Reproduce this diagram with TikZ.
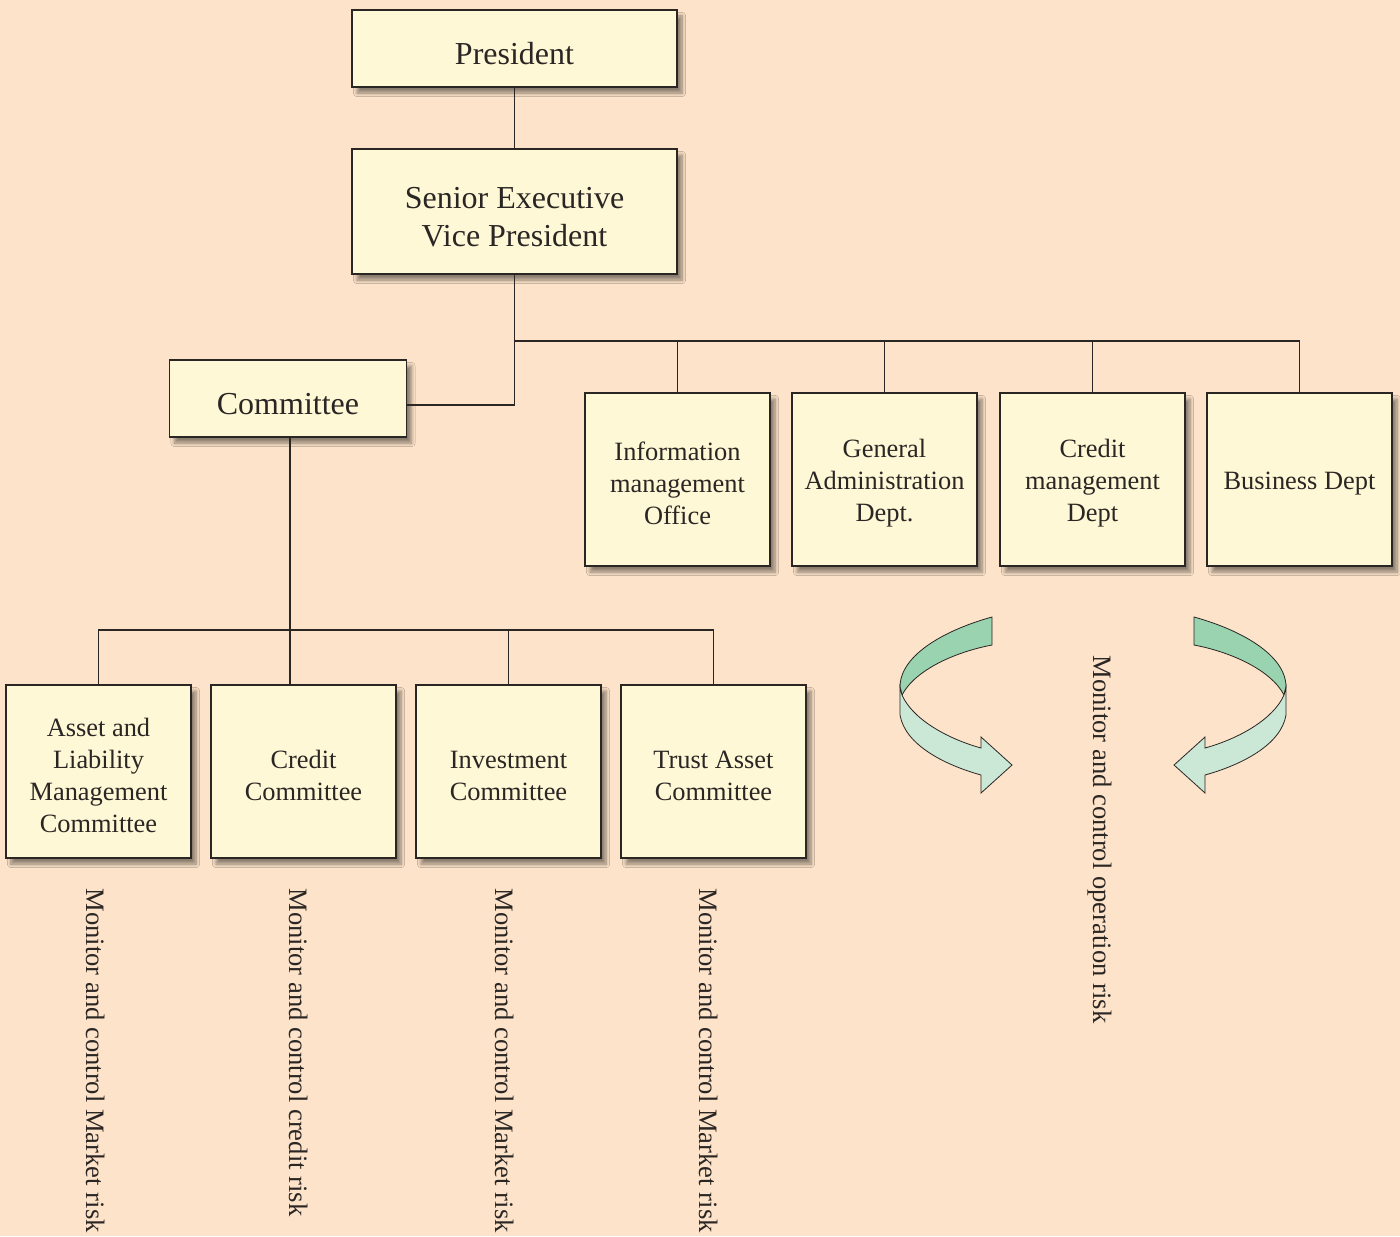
\documentclass[tikz,border=0pt]{standalone}
\usepackage{fontspec}
\setmainfont{Liberation Serif}
\usetikzlibrary{shadows.blur}
\definecolor{peach}{HTML}{FDE3C9}
\definecolor{boxfill}{HTML}{FFF8D6}
\definecolor{dkgreen}{HTML}{99D3B0}
\definecolor{ltgreen}{HTML}{CBE7D6}
\definecolor{ink}{HTML}{2A2624}
\newcommand\lift{\rule{0pt}{1em}}
\begin{document}
\begin{tikzpicture}[x=0.5pt,y=-0.5pt,
    box/.style={draw=ink,line width=0.8pt,fill=boxfill,inner sep=0pt,align=center,text=ink,
      font=\fontsize{13.2}{16}\selectfont,minimum width=92.5pt,minimum height=86.5pt,
      blur shadow={shadow xshift=2.5pt,shadow yshift=-3pt,shadow blur steps=8,shadow opacity=45}},
    bigbox/.style={box,font=\fontsize{16}{19}\selectfont,minimum width=162.5pt,minimum height=38.5pt},
    link/.style={draw=ink,line width=0.6pt},
    risk/.style={rotate=-90,anchor=west,inner sep=0pt,text=ink,font=\fontsize{13.3}{16}\selectfont},
    twistarrow/.pic={
      \filldraw[fill=dkgreen,draw=ink,line width=0.4pt] (992,617) .. controls (945,630) and (900,655) .. (900,687)
        -- (902,695) .. controls (915,670) and (955,652) .. (992,645) -- cycle;
      \filldraw[fill=ltgreen,draw=ink,line width=0.4pt] (900,687) -- (900,715) .. controls (905,745) and (945,765) .. (981,775)
        -- (981,793) -- (1012,765) -- (981,737) -- (981,748) .. controls (945,738) and (912,718) .. (902,695) -- cycle;
    }]
  \fill[peach] (0,0) rectangle (1400,1236);
  \useasboundingbox (0,0) rectangle (1400,1236);
  % top of the tree
  \node[bigbox] (pres) at (514.5,48.5) {\lift President};
  \node[bigbox,minimum height=62.5pt] (sevp) at (514.5,211.5) {\lift Senior Executive\\Vice President};
  \node[bigbox,minimum width=118.5pt] (comm) at (288,398.5) {\lift Committee};
  % departments
  \node[box] (info) at (677.5,479.5) {\lift Information\\management\\Office};
  \node[box] (gad) at (884.5,479.5) {\lift General\\Administration\\Dept.};
  \node[box] (cmd) at (1092.5,479.5) {\lift Credit\\management\\Dept};
  \node[box] (biz) at (1299.5,479.5) {\lift Business Dept};
  % committees
  \node[box] (alm) at (98.5,771.5) {\lift Asset and\\Liability\\Management\\Committee};
  \node[box] (ccom) at (303.5,771.5) {\lift Credit\\Committee};
  \node[box] (inv) at (508.5,771.5) {\lift Investment\\Committee};
  \node[box] (trust) at (713.5,771.5) {\lift Trust Asset\\Committee};
  % connectors
  \coordinate (bus) at (514,341);
  \coordinate (cbus) at (290,630);
  \draw[link] (pres) -- (sevp);
  \draw[link] (sevp) |- ([yshift=-3.25pt]comm.east);
  \foreach \d in {info,gad,cmd,biz} \draw[link] (\d.north) |- (bus);
  \draw[link] (cbus |- comm.south) -- (cbus |- ccom.north);
  \foreach \c in {alm,inv,trust} \draw[link] (\c.north) |- (cbus);
  % risk labels
  \node[risk] (riskalm) at (96,888) {Monitor and control Market risk};
  \node[risk] (riskcc) at (299,888) {Monitor and control credit risk};
  \node[risk] (riskinv) at (505,888) {Monitor and control Market risk};
  \node[risk] (risktr) at (709,888) {Monitor and control Market risk};
  \node[risk] (riskop) at (1100,655) {Monitor and control operation risk};
  \pic at (0,0) {twistarrow};
  \pic[xscale=-1] at (2186,0) {twistarrow};
\end{tikzpicture}
\end{document}
